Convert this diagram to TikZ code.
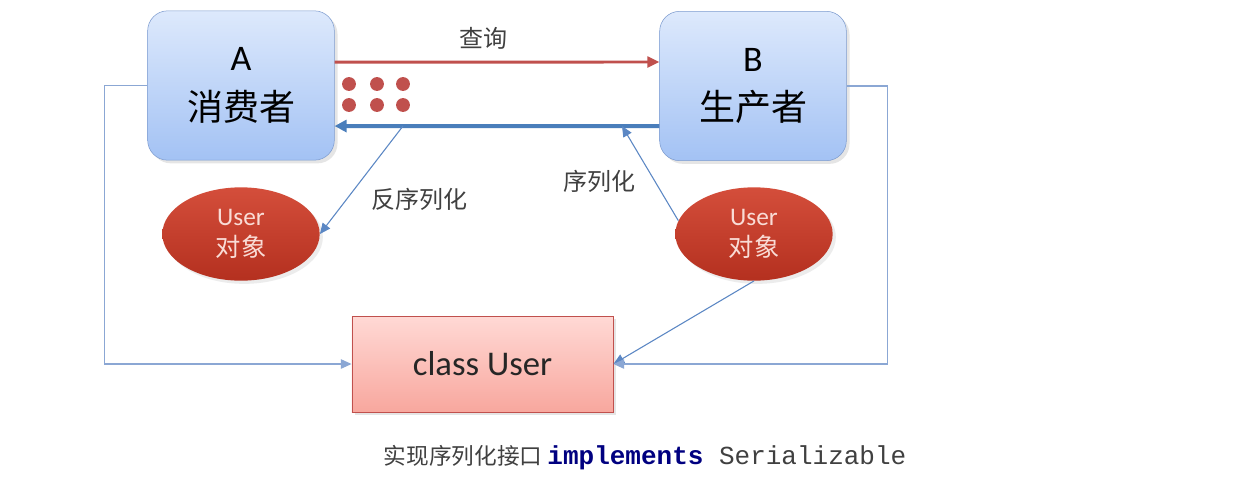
\documentclass[tikz,border=0pt]{standalone}
\usepackage{fontspec}
\setmainfont{Carlito}
\setmonofont{Liberation Mono}
\newfontfamily\cjk{Noto Sans CJK SC}
\usetikzlibrary{arrows.meta,shapes.geometric,shadows}
\definecolor{boxline}{HTML}{7E9CCF}
\definecolor{boxtop}{HTML}{DDE9FC}
\definecolor{boxbot}{HTML}{A3C2F4}
\definecolor{queryred}{HTML}{C0504D}
\definecolor{replyblue}{HTML}{4A7EBB}
\definecolor{linkblue}{HTML}{5B87C4}
\definecolor{frameblue}{HTML}{8BA7D4}
\definecolor{objtop}{HTML}{D44E3B}
\definecolor{objbot}{HTML}{B4301F}
\definecolor{objtext}{HTML}{F9DCD6}
\definecolor{clstop}{HTML}{FFD9D5}
\definecolor{clsbot}{HTML}{F8A79E}
\definecolor{clsline}{HTML}{C0504D}
\definecolor{txt}{HTML}{404040}
\definecolor{kw}{HTML}{000080}

\begin{document}
\begin{tikzpicture}[x=0.75pt,y=-0.75pt, every node/.style={align=center,text=txt}, role/.style={draw=boxline,rounded corners=15pt,minimum width=140pt,minimum height=112pt,top color=boxtop,bottom color=boxbot,text=black,font=\fontsize{27}{37}\selectfont,drop shadow={opacity=0.2}}, obj/.style={ellipse,minimum width=118pt,minimum height=70pt,top color=objtop,bottom color=objbot,text=objtext,font=\fontsize{19}{23}\selectfont,drop shadow={opacity=0.15}}, cls/.style={draw=clsline,minimum width=196pt,minimum height=72pt,top color=clstop,bottom color=clsbot,text=black!85,font=\fontsize{26}{30}\selectfont,drop shadow={opacity=0.2}}, lbl/.style={font=\fontsize{18}{20}\selectfont\cjk}, query/.style={-{Triangle[length=9pt,width=8pt]},line width=2.2pt,draw=queryred}, reply/.style={-{Triangle[length=9pt,width=9pt]},line width=3pt,draw=replyblue}, link/.style={-{Triangle[length=8pt,width=7pt]},line width=0.8pt,draw=linkblue}, frame/.style={-{Triangle[length=8pt,width=7pt]},line width=1pt,draw=frameblue}]
\useasboundingbox[fill=white] (0,0) rectangle (1257,483);
\node[role] (A) at (241,85.5) {A\\{\cjk 消费者}};
\node[role] (B) at (753,86) {B\\{\cjk 生产者}};
\node[obj] (objA) at (241,234) {User\\{\cjk 对象}};
\node[obj] (objB) at (754,234) {User\\{\cjk 对象}};
\node[cls] (cls) at (482.5,364) {class User};
\coordinate (split) at (403,126); \coordinate (join) at (622,126);
\draw[query] ([yshift=17.5pt]A.east) -- ([yshift=18pt]B.west);
\draw[reply] ([yshift=-30pt]B.west) -- ([yshift=-30.4pt]A.east);
\foreach \x in {349,377,403} \foreach \y in {84,105} \fill[queryred] (\x,\y) circle[radius=5.2pt];
\node[lbl] (ask) at (483,38) {查询};
\node[lbl] (deser) at (419,199) {反序列化};
\node[lbl] (ser) at (599,181) {序列化};
\draw[link] (split) -- (objA.east);
\draw[link] (objB.170) -- (join);
\draw[link] (objB.south) -- (cls.east);
\draw[frame] (A.west) -- ++(-43,0) |- (cls.west);
\draw[frame] (B.east) -- ++(41,0) |- (cls.east);
\node[font=\fontsize{17}{20}\selectfont] (cap) at (645,458) {{\cjk 实现序列化接口} {\ttfamily\fontsize{19.5}{20}\selectfont{\bfseries\color{kw}implements} Serializable}};
\end{tikzpicture}
\end{document}
